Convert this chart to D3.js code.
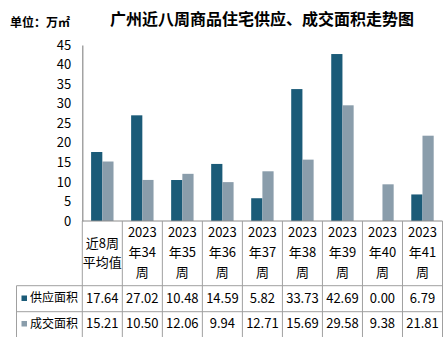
<!DOCTYPE html>
<html><head><meta charset="utf-8">
<script src="https://cdn.jsdelivr.net/npm/d3@7/dist/d3.min.js"></script>
<style>body{margin:0;background:#fff}svg{display:block;font-family:"Noto Sans CJK SC","Noto Sans",sans-serif}</style>
</head><body><svg id="c" width="443" height="337"></svg>
<script>
const categories = ["近8周平均值","2023年34周","2023年35周","2023年36周","2023年37周","2023年38周","2023年39周","2023年40周","2023年41周"];
const headerLines = [["近8周","平均值"],["2023","年34","周"],["2023","年35","周"],["2023","年36","周"],["2023","年37","周"],["2023","年38","周"],["2023","年39","周"],["2023","年40","周"],["2023","年41","周"]];
const seriesNames = ["供应面积","成交面积"];
const supply = [17.64,27.02,10.48,14.59,5.82,33.73,42.69,0.00,6.79];
const deal = [15.21,10.50,12.06,9.94,12.71,15.69,29.58,9.38,21.81];
const yTicks = [0,5,10,15,20,25,30,35,40,45];
const colors = ["#1b5b78","#8a9dab"];
const title = "广州近八周商品住宅供应、成交面积走势图";
const unit = "单位：万㎡";

const svg = d3.select("#c");
const x0 = 82.3, x1 = 442.5, yTop = 45, yBase = 221;
const x = d3.scaleBand().domain(categories).range([x0, x1]).padding(0);
const xs = d3.scaleBand().domain(seriesNames).range([x.bandwidth()*0.22, x.bandwidth()*0.78]).padding(0);
const y = d3.scaleLinear().domain([0,45]).range([yBase, yTop]);

svg.append("text").attr("x",262).attr("y",21).attr("text-anchor","middle").attr("dominant-baseline","middle")
  .attr("font-size",16).attr("font-weight","bold").attr("fill","#000").text(title);
svg.append("text").attr("x",10).attr("y",24).attr("dominant-baseline","middle")
  .attr("font-size",12).attr("font-weight","bold").attr("fill","#000").text(unit);

// y axis labels
const yAxis = d3.axisLeft(y).tickValues(yTicks).tickSize(0).tickPadding(11);
const ga = svg.append("g").attr("transform",`translate(${x0},0)`).call(yAxis);
ga.select(".domain").attr("stroke","#8c8c8c").attr("stroke-width",1.2);
ga.selectAll("text").attr("font-size",13).attr("fill","#000").attr("font-family",'"Noto Sans CJK SC",sans-serif');

// bars
const data = [supply, deal];
data.forEach((vals, si) => {
  svg.append("g").selectAll("rect").data(vals).join("rect")
    .attr("x",(d,i)=>x(categories[i]) + xs(seriesNames[si]))
    .attr("width", xs.bandwidth())
    .attr("y", d=>y(d))
    .attr("height", d=>yBase - y(d))
    .attr("fill", colors[si]);
});

// baseline
svg.append("line").attr("x1",x0).attr("x2",x1).attr("y1",yBase).attr("y2",yBase).attr("stroke","#8c8c8c").attr("stroke-width",1.2);

// table
const row1 = 285.7, row2 = 311.7, bottom = 337, left = 16.5;
const lc = "#a0a0a0";
const tg = svg.append("g");
tg.append("line").attr("x1",left).attr("x2",x1).attr("y1",row1).attr("y2",row1).attr("stroke",lc);
tg.append("line").attr("x1",left).attr("x2",x1).attr("y1",row2).attr("y2",row2).attr("stroke",lc);
tg.append("line").attr("x1",left).attr("x2",left).attr("y1",row1).attr("y2",bottom).attr("stroke",lc);
const bounds = categories.map(c=>x(c)).concat([x1]);
tg.selectAll("line.v").data(bounds).join("line").attr("class","v")
  .attr("x1",d=>d).attr("x2",d=>d).attr("y1",yBase).attr("y2",bottom).attr("stroke",lc);

// header text
categories.forEach((c,i)=>{
  const lines = headerLines[i];
  const ys = lines.length === 3 ? [233,253,273] : [244,263.5];
  lines.forEach((t,j)=>{
    tg.append("text").attr("x",x(c)+x.bandwidth()/2).attr("y",ys[j]).attr("text-anchor","middle")
      .attr("dominant-baseline","middle").attr("font-size",13).attr("fill","#000").text(t);
  });
});
// values
[supply, deal].forEach((vals, si)=>{
  const ry = si===0 ? 299 : 324.5;
  tg.append("rect").attr("x",21.5).attr("y",ry-3.5).attr("width",5.5).attr("height",5.5).attr("fill",colors[si]);
  tg.append("text").attr("x",30).attr("y",ry).attr("dominant-baseline","middle").attr("font-size",12).attr("fill","#000").text(seriesNames[si]);
  vals.forEach((v,i)=>{
    tg.append("text").attr("x",x(categories[i])+x.bandwidth()/2).attr("y",ry).attr("text-anchor","middle")
      .attr("dominant-baseline","middle").attr("font-size",13).attr("fill","#000").text(v.toFixed(2));
  });
});
</script></body></html>
